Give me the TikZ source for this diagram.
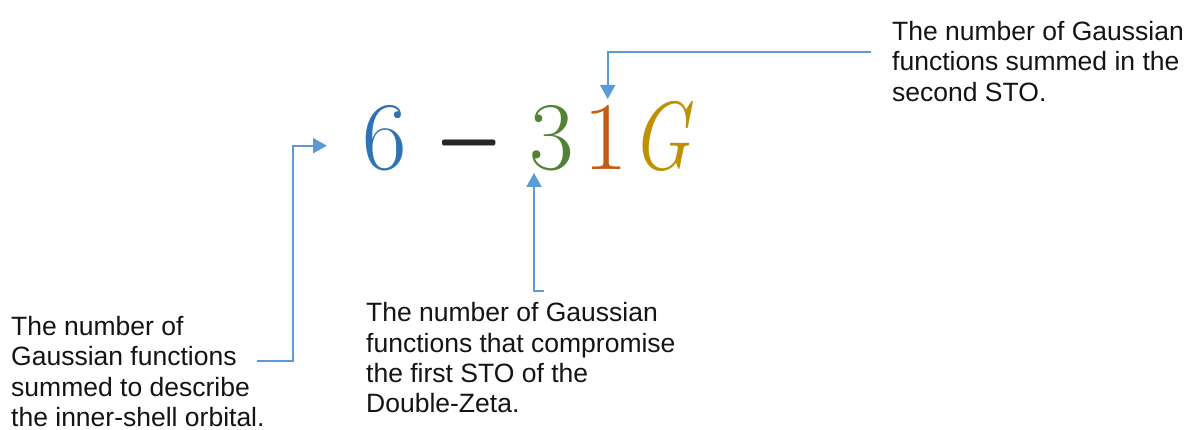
\documentclass[tikz,border=0pt]{standalone}
\usepackage{fontspec}
\setsansfont{Liberation Sans}
\usetikzlibrary{arrows.meta}
\definecolor{cblue}{HTML}{2E74B5}
\definecolor{cgreen}{HTML}{548235}
\definecolor{corange}{HTML}{C55A11}
\definecolor{cgold}{HTML}{BF9000}
\definecolor{cminus}{HTML}{262626}
\definecolor{carrow}{HTML}{5B9BD5}
\definecolor{ctext}{HTML}{141414}
\tikzset{
  label/.style={anchor=base west, inner sep=0pt, align=left, text=ctext,
    font=\sffamily\fontsize{26.5}{30.3}\selectfont},
  sym/.style={anchor=base, inner sep=0pt, font=\rmfamily\fontsize{97}{97}\selectfont},
  conn/.style={draw=carrow, line width=2pt, -{Triangle[length=14pt,width=15pt]}}
}
\begin{document}
\begin{tikzpicture}[x=1pt,y=1pt]
\useasboundingbox (0,0) rectangle (1187,430);
% formula
\node[sym, text=cblue] (six) at (385,260) {6};
\node[sym, text=cminus] (minus) at (469,260) {\raisebox{-16pt}{\scalebox{0.88}[1.75]{\char"2212}}};
\node[sym, text=cgreen] (three) at (552,260) {3};
\node[sym, text=corange] (one) at (606,260) {1};
\node[sym, text=cgold] (gee) at (661,260) {\scalebox{0.8}[1]{\itshape G}};
% labels (anchor = baseline of last line)
\node[label] (ltext) at (11,3.5) {The number of\\Gaussian functions\\summed to describe\\the inner-shell orbital.};
\node[label] (mtext) at (366,17.1) {The number of Gaussian\\functions that compromise\\the first STO of the\\Double-Zeta.};
\node[label] (rtext) at (892,328.7) {The number of Gaussian\\functions summed in the\\second STO.};
% connector coordinates
\coordinate (a1s) at (257,68.5);
\coordinate (a1c) at (292.7,68.5);
\coordinate (a1t) at (327,284.3);
\coordinate (a2s) at (544,139.3);
\coordinate (a2t) at (534,257);
\coordinate (a3s) at (871,378.3);
\coordinate (a3t) at (607.7,331);
% connectors
\draw[conn] (a1s) -- (a1c) |- (a1t);
\draw[conn] (a2s) -| (a2t);
\draw[conn] (a3s) -| (a3t);
\end{tikzpicture}
\end{document}
